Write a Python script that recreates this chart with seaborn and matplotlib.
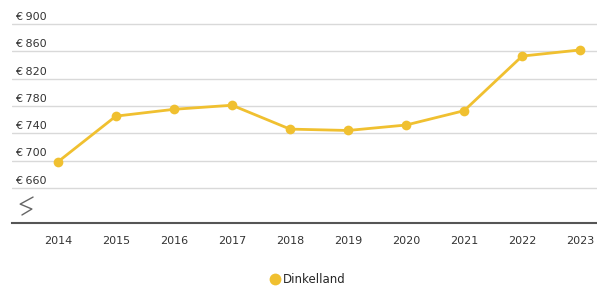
import matplotlib
matplotlib.use("Agg")
import matplotlib.pyplot as plt
import seaborn as sns
import pandas as pd
from matplotlib.lines import Line2D

years = [2014, 2015, 2016, 2017, 2018, 2019, 2020, 2021, 2022, 2023]
values = [698, 765, 775, 781, 746, 744, 752, 773, 853, 862]
series_name = "Dinkelland"
y_ticks = [660, 700, 740, 780, 820, 860, 900]
y_tick_labels = ["€ 660", "€ 700", "€ 740", "€ 780", "€ 820", "€ 860", "€ 900"]

df = pd.DataFrame({"year": years, "value": values, "region": series_name})

sns.set_style("white")
plt.rcParams["font.family"] = ["DejaVu Sans"]

color = "#F0C030"
fig = plt.figure(figsize=(5.97, 2.90), dpi=100)
ax = fig.add_axes([0.0201, 0.230, 0.98, 0.7355])

sns.lineplot(data=df, x="year", y="value", ax=ax, color=color, linewidth=2,
             marker="o", markersize=7, markeredgewidth=0, legend=False)

ax.set_xlim(2013.21, 2023.29)
ax.set_ylim(608, 920.5)
ax.set_xticks(years)
ax.set_xticklabels([str(y) for y in years], fontsize=8, color="#333333")
ax.set_yticks(y_ticks)
ax.set_yticklabels([])
ax.tick_params(axis="both", length=0, pad=9)
ax.grid(axis="y", color="#d9d9d9", linewidth=1)
ax.set_axisbelow(True)
for s in ["top", "right", "left"]:
    ax.spines[s].set_visible(False)
ax.spines["bottom"].set_color("#555555")
ax.spines["bottom"].set_linewidth(1.5)
ax.set_xlabel("")
ax.set_ylabel("")

for t, lab in zip(y_ticks, y_tick_labels):
    ax.text(0.005, t + 3, lab, transform=ax.get_yaxis_transform(), fontsize=8,
            color="#333333", ha="left", va="bottom")

# axis break symbol
ax.plot([0.036, 0.014, 0.034, 0.017], [0.123, 0.090, 0.067, 0.039],
        transform=ax.transAxes, color="#666666", linewidth=1, clip_on=False)

handle = Line2D([], [], marker="o", linestyle="none", markersize=8.5,
                markerfacecolor=color, markeredgewidth=0)
fig.legend([handle], [series_name], loc="center", bbox_to_anchor=(0.515, 0.035),
           frameon=False, fontsize=8.5, handletextpad=0.1, handlelength=1)

fig.savefig("out.png", dpi=100)
